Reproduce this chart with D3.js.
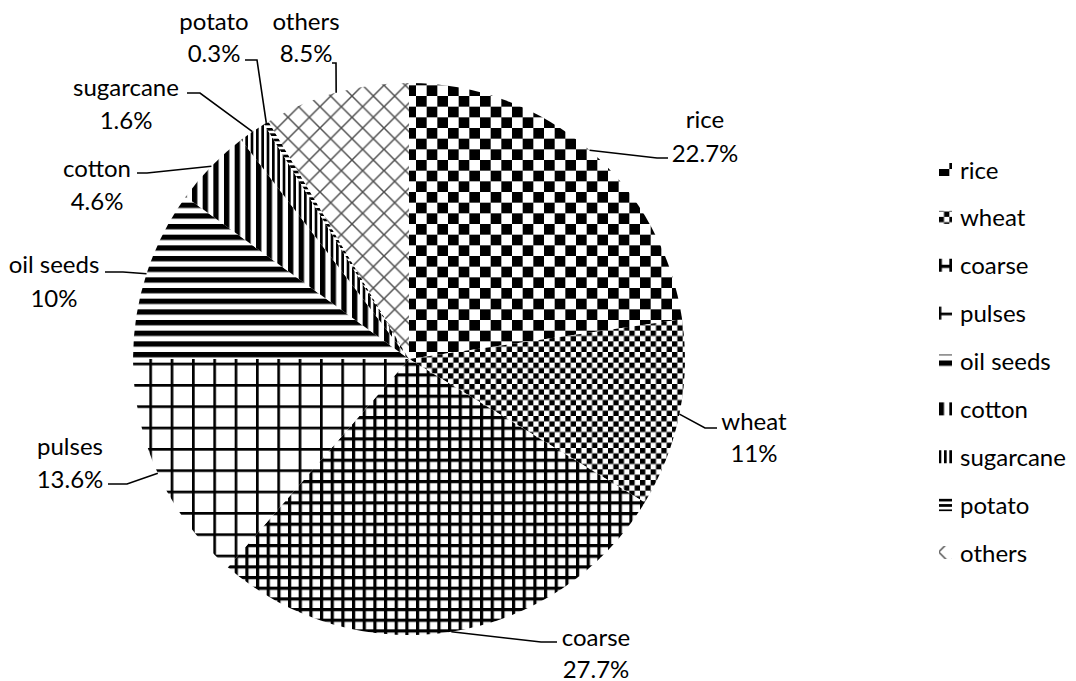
<!DOCTYPE html>
<html>
<head>
<meta charset="utf-8">
<script src="https://cdn.jsdelivr.net/npm/d3@7"></script>
<style>
  html, body { margin: 0; padding: 0; background: #fff; }
  svg { display: block; }
  text { font-family: Lato, "Open Sans", sans-serif; fill: #000; }
</style>
</head>
<body>
<svg id="chart" width="1076" height="681"></svg>
<script>
// Share of area by crop (%)
const categories = ["rice", "wheat", "coarse", "pulses", "oil seeds", "cotton", "sugarcane", "potato", "others"];
const values = [22.7, 11, 27.7, 13.6, 10, 4.6, 1.6, 0.3, 8.5];
const valueLabels = ["22.7%", "11%", "27.7%", "13.6%", "10%", "4.6%", "1.6%", "0.3%", "8.5%"];

const W = 1076, H = 681;
const cx = 409, cy = 359, R = 276;
const FONT = 24;

// Label placement: text centre x, first/second line y, leader elbow and end points
const labelLayout = {
  "rice":      { x: 705, y1: 118, y2: 152, elbow: [657, 158], end: [668, 158] },
  "wheat":     { x: 754, y1: 420, y2: 452, elbow: [705, 428], end: [717, 428] },
  "coarse":    { x: 596, y1: 636, y2: 668, elbow: [541, 642], end: [557, 642] },
  "pulses":    { x: 70,  y1: 445, y2: 478, elbow: [127, 484], end: [108, 484] },
  "oil seeds": { x: 54,  y1: 263, y2: 297, elbow: [123, 272], end: [105, 272] },
  "cotton":    { x: 97,  y1: 167, y2: 200, elbow: [147, 173], end: [137, 173] },
  "sugarcane": { x: 126, y1: 86,  y2: 119, elbow: [200, 93],  end: [187, 93] },
  "potato":    { x: 214, y1: 20,  y2: 52,  elbow: [257, 60],  end: [245, 60] },
  "others":    { x: 306, y1: 20,  y2: 52,  elbow: [336, 63],  end: [332, 63] }
};

const svg = d3.select("#chart");
svg.append("rect").attr("width", W).attr("height", H).attr("fill", "#fff");

const defs = svg.append("defs");
const s = 8 / 3; // pattern pixel unit

function pattern(id, size, build) {
  const p = defs.append("pattern")
    .attr("id", id)
    .attr("patternUnits", "userSpaceOnUse")
    .attr("width", size).attr("height", size);
  p.append("rect").attr("width", size).attr("height", size).attr("fill", "#fff");
  build(p, size);
  return "url(#" + id + ")";
}

const fills = {
  "rice": pattern("p-rice", 8 * s, (p, n) => {
    p.append("rect").attr("x", 0).attr("y", 0).attr("width", n / 2).attr("height", n / 2).attr("fill", "#000");
    p.append("rect").attr("x", n / 2).attr("y", n / 2).attr("width", n / 2).attr("height", n / 2).attr("fill", "#000");
  }),
  "wheat": pattern("p-wheat", 4 * s, (p, n) => {
    p.append("rect").attr("x", 0).attr("y", 0).attr("width", n / 2).attr("height", n / 2).attr("fill", "#000");
    p.append("rect").attr("x", n / 2).attr("y", n / 2).attr("width", n / 2).attr("height", n / 2).attr("fill", "#000");
  }),
  "coarse": pattern("p-coarse", 4 * s, (p, n) => {
    p.append("rect").attr("x", 0).attr("y", 0).attr("width", 3.2).attr("height", n).attr("fill", "#000");
    p.append("rect").attr("x", 0).attr("y", 0).attr("width", n).attr("height", 3.2).attr("fill", "#000");
  }),
  "pulses": pattern("p-pulses", 8 * s, (p, n) => {
    p.append("rect").attr("x", 0).attr("y", 0).attr("width", s).attr("height", n).attr("fill", "#000");
    p.append("rect").attr("x", 0).attr("y", 0).attr("width", n).attr("height", s).attr("fill", "#000");
  }),
  "oil seeds": pattern("p-oil", 4 * s, (p, n) => {
    p.append("rect").attr("x", 0).attr("y", 0).attr("width", n).attr("height", n / 2).attr("fill", "#000");
  }),
  "cotton": pattern("p-cotton", 4 * s, (p, n) => {
    p.append("rect").attr("x", 0).attr("y", 0).attr("width", n / 2).attr("height", n).attr("fill", "#000");
  }),
  "sugarcane": pattern("p-sugar", 2 * s, (p, n) => {
    p.append("rect").attr("x", 0).attr("y", 0).attr("width", n / 2).attr("height", n).attr("fill", "#000");
  }),
  "potato": pattern("p-potato", 2 * s, (p, n) => {
    p.append("rect").attr("x", 0).attr("y", 0).attr("width", n).attr("height", n / 2).attr("fill", "#000");
  }),
  "others": pattern("p-others", 8 * s, (p, n) => {
    const g = p.append("g").attr("stroke", "#505050").attr("stroke-width", 1.5).attr("fill", "none");
    g.append("path").attr("d", `M${-n / 2},${n / 2}L${n / 2},${-n / 2}M0,${n}L${n},0M${n / 2},${n * 1.5}L${n * 1.5},${n / 2}`);
    g.append("path").attr("d", `M${-n / 2},${n / 2}L${n / 2},${n * 1.5}M0,0L${n},${n}M${n / 2},${-n / 2}L${n * 1.5},${n / 2}`);
  })
};

const data = categories.map((c, i) => ({ name: c, value: values[i], label: valueLabels[i] }));

const pie = d3.pie().value(d => d.value).sort(null).startAngle(0).endAngle(2 * Math.PI);
const arcs = pie(data);
const rim = d3.arc().innerRadius(R).outerRadius(R);

// Slices drawn in page coordinates so the pattern tiles stay anchored to the page
svg.append("g").selectAll("path.slice")
  .data(arcs)
  .join("path")
  .attr("class", "slice")
  .attr("fill", d => fills[d.data.name])
  .attr("d", d => {
    const path = d3.path();
    const a0 = d.startAngle - Math.PI / 2, a1 = d.endAngle - Math.PI / 2;
    path.moveTo(cx, cy);
    path.lineTo(cx + R * Math.cos(a0), cy + R * Math.sin(a0));
    path.arc(cx, cy, R, a0, a1);
    path.closePath();
    return path.toString();
  });

// Leader lines
const line = d3.line();
svg.append("g").selectAll("path.leader")
  .data(arcs)
  .join("path")
  .attr("class", "leader")
  .attr("fill", "none")
  .attr("stroke", "#000")
  .attr("stroke-width", 1.6)
  .attr("d", d => {
    const [px, py] = rim.centroid(d);
    const L = labelLayout[d.data.name];
    return line([[cx + px, cy + py], L.elbow, L.end]);
  });

// Data labels
const labels = svg.append("g").selectAll("g.label")
  .data(arcs)
  .join("g")
  .attr("class", "label");
labels.append("text")
  .attr("x", d => labelLayout[d.data.name].x)
  .attr("y", d => labelLayout[d.data.name].y1)
  .attr("text-anchor", "middle")
  .attr("dominant-baseline", "central")
  .attr("font-size", FONT)
  .text(d => d.data.name);
labels.append("text")
  .attr("x", d => labelLayout[d.data.name].x)
  .attr("y", d => labelLayout[d.data.name].y2)
  .attr("text-anchor", "middle")
  .attr("dominant-baseline", "central")
  .attr("font-size", FONT)
  .text(d => d.data.label);

// Legend
const legendY = d3.scalePoint().domain(categories).range([169, 552]);
const legend = svg.append("g").selectAll("g.key")
  .data(categories)
  .join("g")
  .attr("class", "key")
  .attr("transform", d => `translate(0,${legendY(d)})`);
legend.append("rect")
  .attr("x", 939).attr("y", -6).attr("width", 13).attr("height", 13)
  .attr("fill", d => fills[d]);
legend.append("text")
  .attr("x", 960).attr("y", 0)
  .attr("dominant-baseline", "central")
  .attr("font-size", FONT)
  .text(d => d);
</script>
</body>
</html>
